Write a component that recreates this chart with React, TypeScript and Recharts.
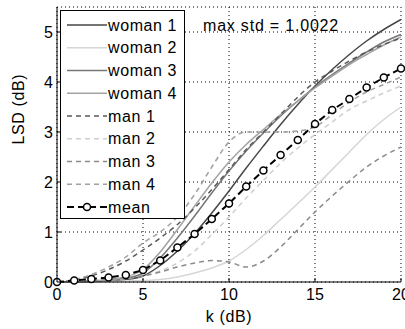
import React from 'react';
import { LineChart, Line, XAxis, YAxis, CartesianGrid } from 'recharts';

// k (dB) sampling points
const kValues = [0, 1, 2, 3, 4, 5, 6, 7, 8, 9, 10, 11, 12, 13, 14, 15, 16, 17, 18, 19, 20];

const woman1 = [0, 0, 0.01, 0.02, 0.05, 0.12, 0.33, 0.62, 0.97, 1.38, 1.82, 2.28, 2.72, 3.15, 3.55, 3.92, 4.25, 4.55, 4.82, 5.05, 5.25];
const woman2 = [0, 0, 0, 0.01, 0.02, 0.03, 0.05, 0.1, 0.18, 0.28, 0.42, 0.65, 0.93, 1.25, 1.57, 1.9, 2.25, 2.6, 2.95, 3.25, 3.5];
const woman3 = [0, 0, 0.01, 0.03, 0.07, 0.18, 0.48, 0.88, 1.32, 1.78, 2.22, 2.62, 2.98, 3.32, 3.62, 3.9, 4.15, 4.38, 4.6, 4.8, 4.95];
const woman4 = [0, 0, 0.02, 0.05, 0.1, 0.25, 0.6, 1.05, 1.52, 1.98, 2.4, 2.75, 3.05, 3.35, 3.62, 3.88, 4.12, 4.35, 4.55, 4.74, 4.9];
const man1 = [0, 0.04, 0.12, 0.25, 0.42, 0.64, 0.88, 1.15, 1.48, 1.85, 2.25, 2.65, 3.0, 3.35, 3.7, 4.0, 4.22, 4.42, 4.6, 4.75, 4.88];
const man2 = [0, 0.01, 0.02, 0.04, 0.07, 0.12, 0.22, 0.38, 0.62, 0.95, 1.3, 1.68, 2.03, 2.38, 2.68, 2.95, 3.2, 3.45, 3.62, 3.78, 3.92];
const man3 = [0, 0.01, 0.02, 0.05, 0.08, 0.12, 0.2, 0.3, 0.38, 0.43, 0.4, 0.3, 0.42, 0.7, 1.05, 1.4, 1.72, 2.02, 2.3, 2.52, 2.7];
const man4 = [0, 0.05, 0.15, 0.3, 0.5, 0.78, 1.0, 1.3, 1.75, 2.3, 2.8, 3.0, 3.0, 3.0, 3.02, 3.1, 3.35, 3.6, 3.8, 3.95, 4.1];
const meanLsd = [0, 0.03, 0.06, 0.09, 0.14, 0.24, 0.43, 0.69, 0.96, 1.26, 1.57, 1.91, 2.23, 2.54, 2.84, 3.16, 3.44, 3.66, 3.89, 4.09, 4.27];

const xTicks = [0, 5, 10, 15, 20];
const yTicks = [0, 1, 2, 3, 4, 5];

const data = kValues.map((k, i) => ({
  k,
  woman1: woman1[i],
  woman2: woman2[i],
  woman3: woman3[i],
  woman4: woman4[i],
  man1: man1[i],
  man2: man2[i],
  man3: man3[i],
  man4: man4[i],
  mean: meanLsd[i],
}));

const series = [
  { key: 'woman1', name: 'woman 1', color: '#474747', dash: undefined },
  { key: 'woman2', name: 'woman 2', color: '#d6d6d6', dash: undefined },
  { key: 'woman3', name: 'woman 3', color: '#777777', dash: undefined },
  { key: 'woman4', name: 'woman 4', color: '#a3a3a3', dash: undefined },
  { key: 'man1', name: 'man 1', color: '#5a5a5a', dash: '5 4' },
  { key: 'man2', name: 'man 2', color: '#cfcfcf', dash: '5 4' },
  { key: 'man3', name: 'man 3', color: '#8a8a8a', dash: '5 4' },
  { key: 'man4', name: 'man 4', color: '#a0a0a0', dash: '5 4' },
];

const FONT = '"Liberation Sans", Arial, sans-serif';
const TICK = 4;

const BottomTick = (props: any) => {
  const { x, y, payload } = props;
  return (
    <g>
      <line x1={x} x2={x} y1={y} y2={y - TICK} stroke="#000" />
      <text x={x} y={y + 18} textAnchor="middle" fontSize={16} fontFamily={FONT} fill="#000">
        {payload.value}
      </text>
    </g>
  );
};

const TopTick = (props: any) => {
  const { x, y } = props;
  return <line x1={x} x2={x} y1={y} y2={y + TICK} stroke="#000" />;
};

const LeftTick = (props: any) => {
  const { x, y, payload } = props;
  return (
    <g>
      <line x1={x} x2={x + TICK} y1={y} y2={y} stroke="#000" />
      <text x={x - 4} y={y + 6} textAnchor="end" fontSize={16} fontFamily={FONT} fill="#000">
        {payload.value}
      </text>
    </g>
  );
};

const RightTick = (props: any) => {
  const { x, y } = props;
  return <line x1={x} x2={x - TICK} y1={y} y2={y} stroke="#000" />;
};

const LegendBox = () => {
  const rowH = 22.75;
  return (
    <svg width={125} height={209} style={{ display: 'block' }}>
      <rect x={0.5} y={0.5} width={124} height={208} fill="#fff" stroke="#000" />
      {series.map((s, i) => {
        const cy = 15 + i * rowH;
        return (
          <g key={s.key}>
            <line x1={7} x2={47} y1={cy} y2={cy} stroke={s.color} strokeWidth={1.5} strokeDasharray={s.dash} />
            <text x={48} y={cy + 5.5} fontSize={16} fontFamily={FONT} letterSpacing={0.6} fill="#000">
              {s.name}
            </text>
          </g>
        );
      })}
      <g>
        <line x1={7} x2={47} y1={15 + 8 * rowH} y2={15 + 8 * rowH} stroke="#000" strokeWidth={2} strokeDasharray="7 4" />
        <circle cx={27} cy={15 + 8 * rowH} r={3.5} fill="#fff" stroke="#000" strokeWidth={1.5} />
        <text x={48} y={15 + 8 * rowH + 5.5} fontSize={16} fontFamily={FONT} letterSpacing={0.6} fill="#000">
          mean
        </text>
      </g>
    </svg>
  );
};

export default function App() {
  return (
    <div style={{ position: 'absolute', left: 0, top: 0, width: 405, height: 329, background: '#fff' }}>
      <LineChart width={405} height={329} data={data} margin={{ top: 7, right: 4, bottom: 0, left: 0 }}>
        <CartesianGrid xAxisId="bottom" yAxisId="left" stroke="#000" strokeDasharray="1 3" strokeWidth={1} />
        <XAxis
          xAxisId="bottom"
          dataKey="k"
          type="number"
          domain={[0, 20]}
          ticks={xTicks}
          height={47}
          stroke="#000"
          tickSize={0}
          tickMargin={0}
          tick={<BottomTick />}
          interval={0}
          label={{ value: 'k (dB)', position: 'insideBottom', offset: 7, fontSize: 16, fontFamily: FONT, letterSpacing: 0.6, fill: '#000' }}
        />
        <XAxis
          xAxisId="top"
          orientation="top"
          dataKey="k"
          type="number"
          domain={[0, 20]}
          ticks={xTicks}
          height={0}
          stroke="#000"
          tickSize={0}
          tickMargin={0}
          tick={<TopTick />}
          interval={0}
        />
        <YAxis
          yAxisId="left"
          type="number"
          domain={[0, 5.5]}
          ticks={yTicks}
          width={57}
          stroke="#000"
          tickSize={0}
          tickMargin={0}
          tick={<LeftTick />}
          interval={0}
          label={{ value: 'LSD (dB)', angle: -90, position: 'insideLeft', offset: 18, fontSize: 16, fontFamily: FONT, letterSpacing: 0.6, fill: '#000' }}
        />
        <YAxis
          yAxisId="right"
          orientation="right"
          type="number"
          domain={[0, 5.5]}
          ticks={yTicks}
          width={0}
          stroke="#000"
          tickSize={0}
          tickMargin={0}
          tick={<RightTick />}
          interval={0}
        />
        {series.map((s) => (
          <Line
            key={s.key}
            xAxisId="bottom"
            yAxisId="left"
            dataKey={s.key}
            name={s.name}
            type="monotone"
            stroke={s.color}
            strokeWidth={1.5}
            strokeDasharray={s.dash}
            dot={false}
            isAnimationActive={false}
          />
        ))}
        <Line
          xAxisId="bottom"
          yAxisId="left"
          dataKey="mean"
          name="mean"
          type="linear"
          stroke="#000"
          strokeWidth={2}
          strokeDasharray="7 4"
          dot={{ r: 3.5, fill: '#fff', stroke: '#000', strokeWidth: 1.5, strokeDasharray: '' }}
          isAnimationActive={false}
        />
      </LineChart>
      <div style={{ position: 'absolute', left: 60, top: 10 }}>
        <LegendBox />
      </div>
      <div
        style={{
          position: 'absolute',
          left: 203,
          top: 17,
          fontSize: 16,
          fontFamily: FONT,
          letterSpacing: 0.8,
          color: '#000',
          lineHeight: '18px',
          whiteSpace: 'nowrap',
        }}
      >
        max std = 1.0022
      </div>
    </div>
  );
}
